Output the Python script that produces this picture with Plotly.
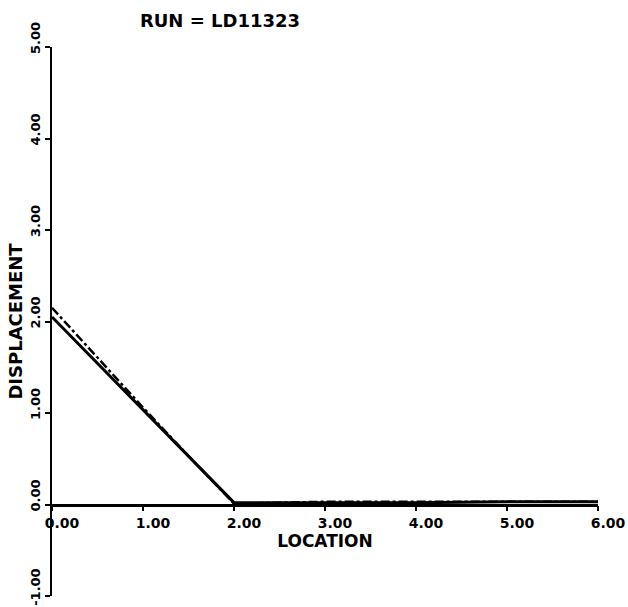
import plotly.graph_objects as go

# Data
location = [0.0, 0.5, 1.0, 1.5, 2.0, 3.0, 4.0, 5.0, 6.0]
disp_solid = [2.05, 1.54, 1.03, 0.52, 0.02, 0.02, 0.02, 0.03, 0.03]
disp_dashed = [2.15, 1.60, 1.06, 0.53, 0.01, 0.03, 0.03, 0.03, 0.03]

x_ticks = [0, 1, 2, 3, 4, 5, 6]
x_tick_labels = ["0.00", "1.00", "2.00", "3.00", "4.00", "5.00", "6.00"]
y_ticks = [-1, 0, 1, 2, 3, 4, 5]
y_tick_labels = ["-1.00", "0.00", "1.00", "2.00", "3.00", "4.00", "5.00"]

FONT = "DejaVu Sans"

fig = go.Figure()
fig.add_trace(go.Scatter(x=location, y=disp_dashed, mode="lines",
                         line=dict(color="black", width=2.5, dash="dashdot")))
fig.add_trace(go.Scatter(x=location, y=disp_solid, mode="lines",
                         line=dict(color="black", width=3)))

fig.update_layout(
    width=628, height=607,
    margin=dict(l=52, r=30, t=47, b=11),
    paper_bgcolor="white", plot_bgcolor="white",
    showlegend=False,
    title=dict(text="RUN = LD11323", x=220/628, xanchor="center",
               y=1 - 21/607, yanchor="middle", yref="container",
               font=dict(family=FONT, size=18, color="black", weight="bold")),
    xaxis=dict(
        range=[0, 6], anchor="free", position=1/6,
        showline=True, linewidth=2.5, linecolor="black",
        ticks="outside", ticklen=5, tickwidth=2, tickcolor="black",
        tickvals=x_ticks, ticktext=x_tick_labels,
        tickfont=dict(family=FONT, size=14, color="black", weight="bold"),
        ticklabelshift=10, ticklabeloverflow="allow",
        showgrid=False, zeroline=False, automargin=False,
        title=dict(text="LOCATION", standoff=1,
                   font=dict(family=FONT, size=17, color="black", weight="bold")),
    ),
    yaxis=dict(
        range=[-1, 5],
        showline=True, linewidth=2, linecolor="black",
        ticks="outside", ticklen=5, tickwidth=2, tickcolor="black",
        tickvals=y_ticks, ticktext=y_tick_labels, tickangle=-90,
        tickfont=dict(family=FONT, size=13, color="black", weight="bold"),
        ticklabelshift=-7, ticklabeloverflow="allow",
        showgrid=False, zeroline=False, automargin=False,
        title=dict(text="DISPLACEMENT", standoff=0,
                   font=dict(family=FONT, size=18, color="black", weight="bold")),
    ),
)

fig.write_html("out.html")
